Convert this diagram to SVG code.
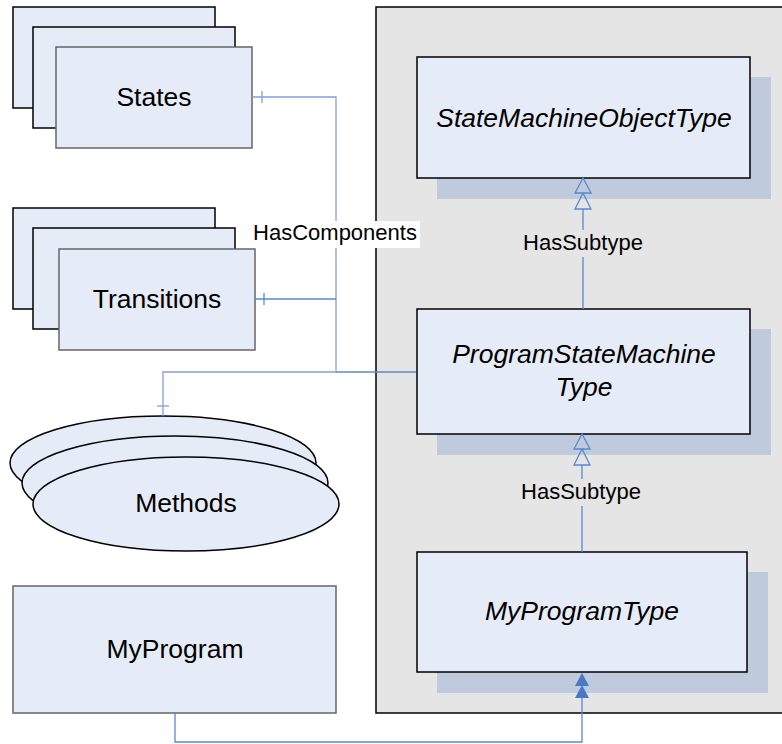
<svg xmlns="http://www.w3.org/2000/svg" width="782" height="744" viewBox="0 0 782 744">
<style>
.node{fill:#e6ecf7;stroke:#000;stroke-width:1.5}
.nodeg{fill:#e6ecf7;stroke:#666;stroke-width:1.5}
.shadow{fill:#bfcadc}
.t{font-family:"Liberation Sans",Arial,sans-serif;font-size:26.5px;fill:#000;text-anchor:middle}
.ti{font-style:italic}
.lbl{font-family:"Liberation Sans",Arial,sans-serif;font-size:22px;fill:#000;text-anchor:middle}
.c{fill:none;stroke:#5a89cf;stroke-width:1.3}
.cl{fill:none;stroke:#7fa2d8;stroke-width:1.3}
.hollow{fill:none;stroke:#5a89cf;stroke-width:1.3}
.solid{fill:#4a78c2;stroke:none}
</style>
<g id="panel">
<rect x="376" y="7" width="420" height="706" fill="#e5e5e5" stroke="#000" stroke-width="1.5"/>
</g>
<g id="states">
<rect class="node" x="13" y="7" width="202" height="101"/>
<rect class="node" x="33" y="27" width="202" height="101"/>
<rect class="nodeg" x="56" y="47" width="196" height="101"/>
<text class="t" x="154" y="106">States</text>
</g>
<g id="transitions">
<rect class="node" x="13" y="208" width="202" height="101"/>
<rect class="node" x="33" y="228" width="202" height="101"/>
<rect class="nodeg" x="59" y="249" width="196" height="101"/>
<text class="t" x="157" y="308">Transitions</text>
</g>
<g id="methods">
<ellipse class="node" cx="163" cy="463" rx="153" ry="47" stroke-width="1"/>
<ellipse class="node" cx="175" cy="483" rx="153" ry="47" stroke-width="1"/>
<ellipse class="node" cx="186" cy="504" rx="153" ry="47" stroke-width="1"/>
<text class="t" x="186" y="512">Methods</text>
</g>
<g id="myprogram">
<rect class="nodeg" x="13" y="586" width="323" height="127"/>
<text class="t" x="175" y="658">MyProgram</text>
</g>
<g id="statemachineobjecttype">
<rect class="shadow" x="437" y="77" width="334" height="122"/>
<rect class="node" x="417" y="57" width="333" height="121"/>
<text class="t ti" x="584" y="127">StateMachineObjectType</text>
</g>
<g id="programstatemachinetype">
<rect class="shadow" x="437" y="329" width="334" height="126"/>
<rect class="node" x="417" y="309" width="333" height="125"/>
<text class="t ti" x="584" y="363">ProgramStateMachine</text>
<text class="t ti" x="584" y="396">Type</text>
</g>
<g id="myprogramtype">
<rect class="shadow" x="437" y="572" width="331" height="121"/>
<rect class="node" x="417" y="552" width="330" height="120"/>
<text class="t ti" x="582" y="620">MyProgramType</text>
</g>
<g id="connectors">
<path class="cl" d="M252 97 H336 V372"/>
<path class="cl" d="M262 91 V103"/>
<path class="c" d="M255 299 H336"/>
<path class="c" d="M264 293 V305"/>
<path class="c" d="M336 372 H416"/>
<path class="cl" d="M336 372 H163 V416"/>
<path class="cl" d="M157 406 H169"/>
<path class="c" d="M583 309 V209"/>
<path class="hollow" d="M583 178 L575 193 L591 193 Z M583 193 L575 209 L591 209 Z"/>
<path class="c" d="M582 552 V465"/>
<path class="hollow" d="M582 434 L574 449 L590 449 Z M582 449 L574 465 L590 465 Z"/>
<path class="c" d="M175 713 V742 H582 V697"/>
<path class="solid" d="M582 673 L575 686 L589 686 Z M582 685 L575 698 L589 698 Z"/>
</g>
<g id="labels">
<rect x="251" y="221" width="169" height="27" fill="#fff"/>
<text class="lbl" x="335" y="240">HasComponents</text>
<rect x="521" y="230" width="124" height="27" fill="#e5e5e5"/>
<text class="lbl" x="583" y="250">HasSubtype</text>
<rect x="519" y="479" width="124" height="27" fill="#e5e5e5"/>
<text class="lbl" x="581" y="499">HasSubtype</text>
</g>
</svg>
